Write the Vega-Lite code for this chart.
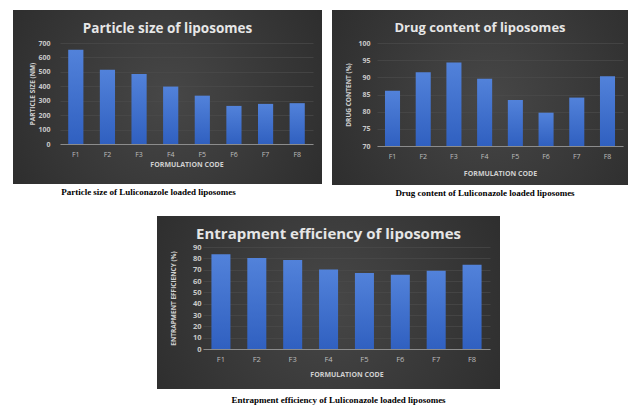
{
  "$schema": "https://vega.github.io/schema/vega-lite/v6.json",
  "background": "white",
  "padding": {"left": 13, "top": 10, "right": -16, "bottom": 0},
  "datasets": {
    "particle": [
      {"code": "F1", "value": 653}, {"code": "F2", "value": 514}, {"code": "F3", "value": 486}, {"code": "F4", "value": 398},
      {"code": "F5", "value": 335}, {"code": "F6", "value": 264}, {"code": "F7", "value": 278}, {"code": "F8", "value": 283}
    ],
    "drug": [
      {"code": "F1", "value": 86.1}, {"code": "F2", "value": 91.5}, {"code": "F3", "value": 94.3}, {"code": "F4", "value": 89.6},
      {"code": "F5", "value": 83.4}, {"code": "F6", "value": 79.7}, {"code": "F7", "value": 84.1}, {"code": "F8", "value": 90.3}
    ],
    "ee": [
      {"code": "F1", "value": 83.5}, {"code": "F2", "value": 80.2}, {"code": "F3", "value": 78.5}, {"code": "F4", "value": 70.2},
      {"code": "F5", "value": 67.0}, {"code": "F6", "value": 65.5}, {"code": "F7", "value": 69.0}, {"code": "F8", "value": 74.3}
    ]
  },
  "spacing": 18,
  "center": true,
  "vconcat": [
    {
      "spacing": 10,
      "hconcat": [
        {
          "title": {"text": "Particle size of Luliconazole loaded liposomes", "orient": "bottom", "font": "Liberation Serif", "fontSize": 9, "fontWeight": "bold", "color": "#000000", "offset": 4, "dx": -19, "anchor": "middle", "frame": "bounds"},
          "vconcat": [
            {
              "width": 309, "height": 174,
              "data": {"name": "particle"},
              "title": {"text": "Particle size of liposomes", "fontSize": 13.5, "offset": -25},
              "mark": {"type": "bar", "color": {"gradient": "linear", "x1": 0, "y1": 0, "x2": 0, "y2": 1, "stops": [{"offset": 0, "color": "#5282da"}, {"offset": 1, "color": "#3060c0"}]}},
              "encoding": {
                "x": {"field": "code", "type": "nominal", "sort": null,
                      "scale": {"range": [47, 300], "paddingInner": 0.52, "paddingOuter": 0.26},
                      "axis": {"title": "FORMULATION CODE", "offset": -40}},
                "y": {"field": "value", "type": "quantitative",
                      "scale": {"domain": [0, 700], "range": [134, 33], "nice": false},
                      "axis": {"title": "PARTICLE SIZE (NM)", "values": [0, 100, 200, 300, 400, 500, 600, 700], "offset": -40, "titlePadding": 2}}
              }
            }
          ]
        },
        {
          "title": {"text": "Drug content of Luliconazole loaded liposomes", "orient": "bottom", "font": "Liberation Serif", "fontSize": 9, "fontWeight": "bold", "color": "#000000", "offset": 4, "dx": -3, "anchor": "middle", "frame": "bounds"},
          "vconcat": [
            {
              "width": 312, "height": 175,
              "data": {"name": "drug"},
              "title": {"text": "Drug content of liposomes", "fontSize": 13, "offset": -25, "dx": -8},
              "mark": {"type": "bar", "color": {"gradient": "linear", "x1": 0, "y1": 0, "x2": 0, "y2": 1, "stops": [{"offset": 0, "color": "#5282da"}, {"offset": 1, "color": "#3060c0"}]}},
              "encoding": {
                "x": {"field": "code", "type": "nominal", "sort": null,
                      "scale": {"range": [45, 291], "paddingInner": 0.51, "paddingOuter": 0.26},
                      "axis": {"title": "FORMULATION CODE", "offset": -39, "titlePadding": 10}},
                "y": {"field": "value", "type": "quantitative",
                      "scale": {"domain": [70, 100], "range": [136, 33], "nice": false, "zero": false},
                      "axis": {"title": "DRUG CONTENT (%)", "values": [70, 75, 80, 85, 90, 95, 100], "offset": -41, "titlePadding": 6}},
                "y2": {"datum": 70}
              }
            }
          ]
        }
      ]
    },
    {
      "title": {"text": "Entrapment efficiency of Luliconazole loaded liposomes", "orient": "bottom", "font": "Liberation Serif", "fontSize": 9, "fontWeight": "bold", "color": "#000000", "offset": 7, "dx": 10, "anchor": "middle", "frame": "bounds"},
      "vconcat": [
        {
          "width": 343, "height": 173,
          "data": {"name": "ee"},
          "title": {"text": "Entrapment efficiency of liposomes", "fontSize": 15, "offset": -26},
          "mark": {"type": "bar", "color": {"gradient": "linear", "x1": 0, "y1": 0, "x2": 0, "y2": 1, "stops": [{"offset": 0, "color": "#5282da"}, {"offset": 1, "color": "#3060c0"}]}},
          "encoding": {
            "x": {"field": "code", "type": "nominal", "sort": null,
                  "scale": {"range": [46, 333], "paddingInner": 0.47, "paddingOuter": 0.235},
                  "axis": {"title": "FORMULATION CODE", "offset": -40, "labelFontSize": 7.5, "titlePadding": 8}},
            "y": {"field": "value", "type": "quantitative",
                  "scale": {"domain": [0, 90], "range": [133, 31], "nice": false},
                  "axis": {"title": "ENTRAPMENT EFFICIENCY (%)", "values": [0, 10, 20, 30, 40, 50, 60, 70, 80, 90], "offset": -47, "titlePadding": 16, "labelFontSize": 7.5}}
          }
        }
      ]
    }
  ],
  "config": {
    "view": {
      "stroke": null,
      "fill": {"gradient": "radial", "x1": 0.5, "y1": 0.5, "r1": 0, "x2": 0.5, "y2": 0.5, "r2": 0.75,
               "stops": [{"offset": 0, "color": "#474747"}, {"offset": 1, "color": "#262626"}]}
    },
    "title": {"font": "Open Sans", "fontWeight": "bold", "color": "#e6e6e6", "anchor": "middle", "frame": "group"},
    "axisX": {"domainColor": "#8c8c8c", "domainWidth": 1, "ticks": false, "grid": false, "labelColor": "#bdbdbd", "labelFont": "Open Sans", "labelFontSize": 7, "labelAngle": 0, "labelPadding": 6, "titleColor": "#cfcfcf", "titleFont": "Open Sans", "titleFontSize": 7, "titleFontWeight": "bold", "titlePadding": 3},
    "axisY": {"domain": false, "ticks": false, "gridColor": "#4b4b4b", "gridWidth": 0.7, "labelColor": "#c8c8c8", "labelFont": "Open Sans", "labelFontSize": 7, "labelFontWeight": "bold", "labelPadding": 3, "titleColor": "#d0d0d0", "titleFont": "Open Sans", "titleFontSize": 6.5, "titleFontWeight": "bold"}
  }
}
